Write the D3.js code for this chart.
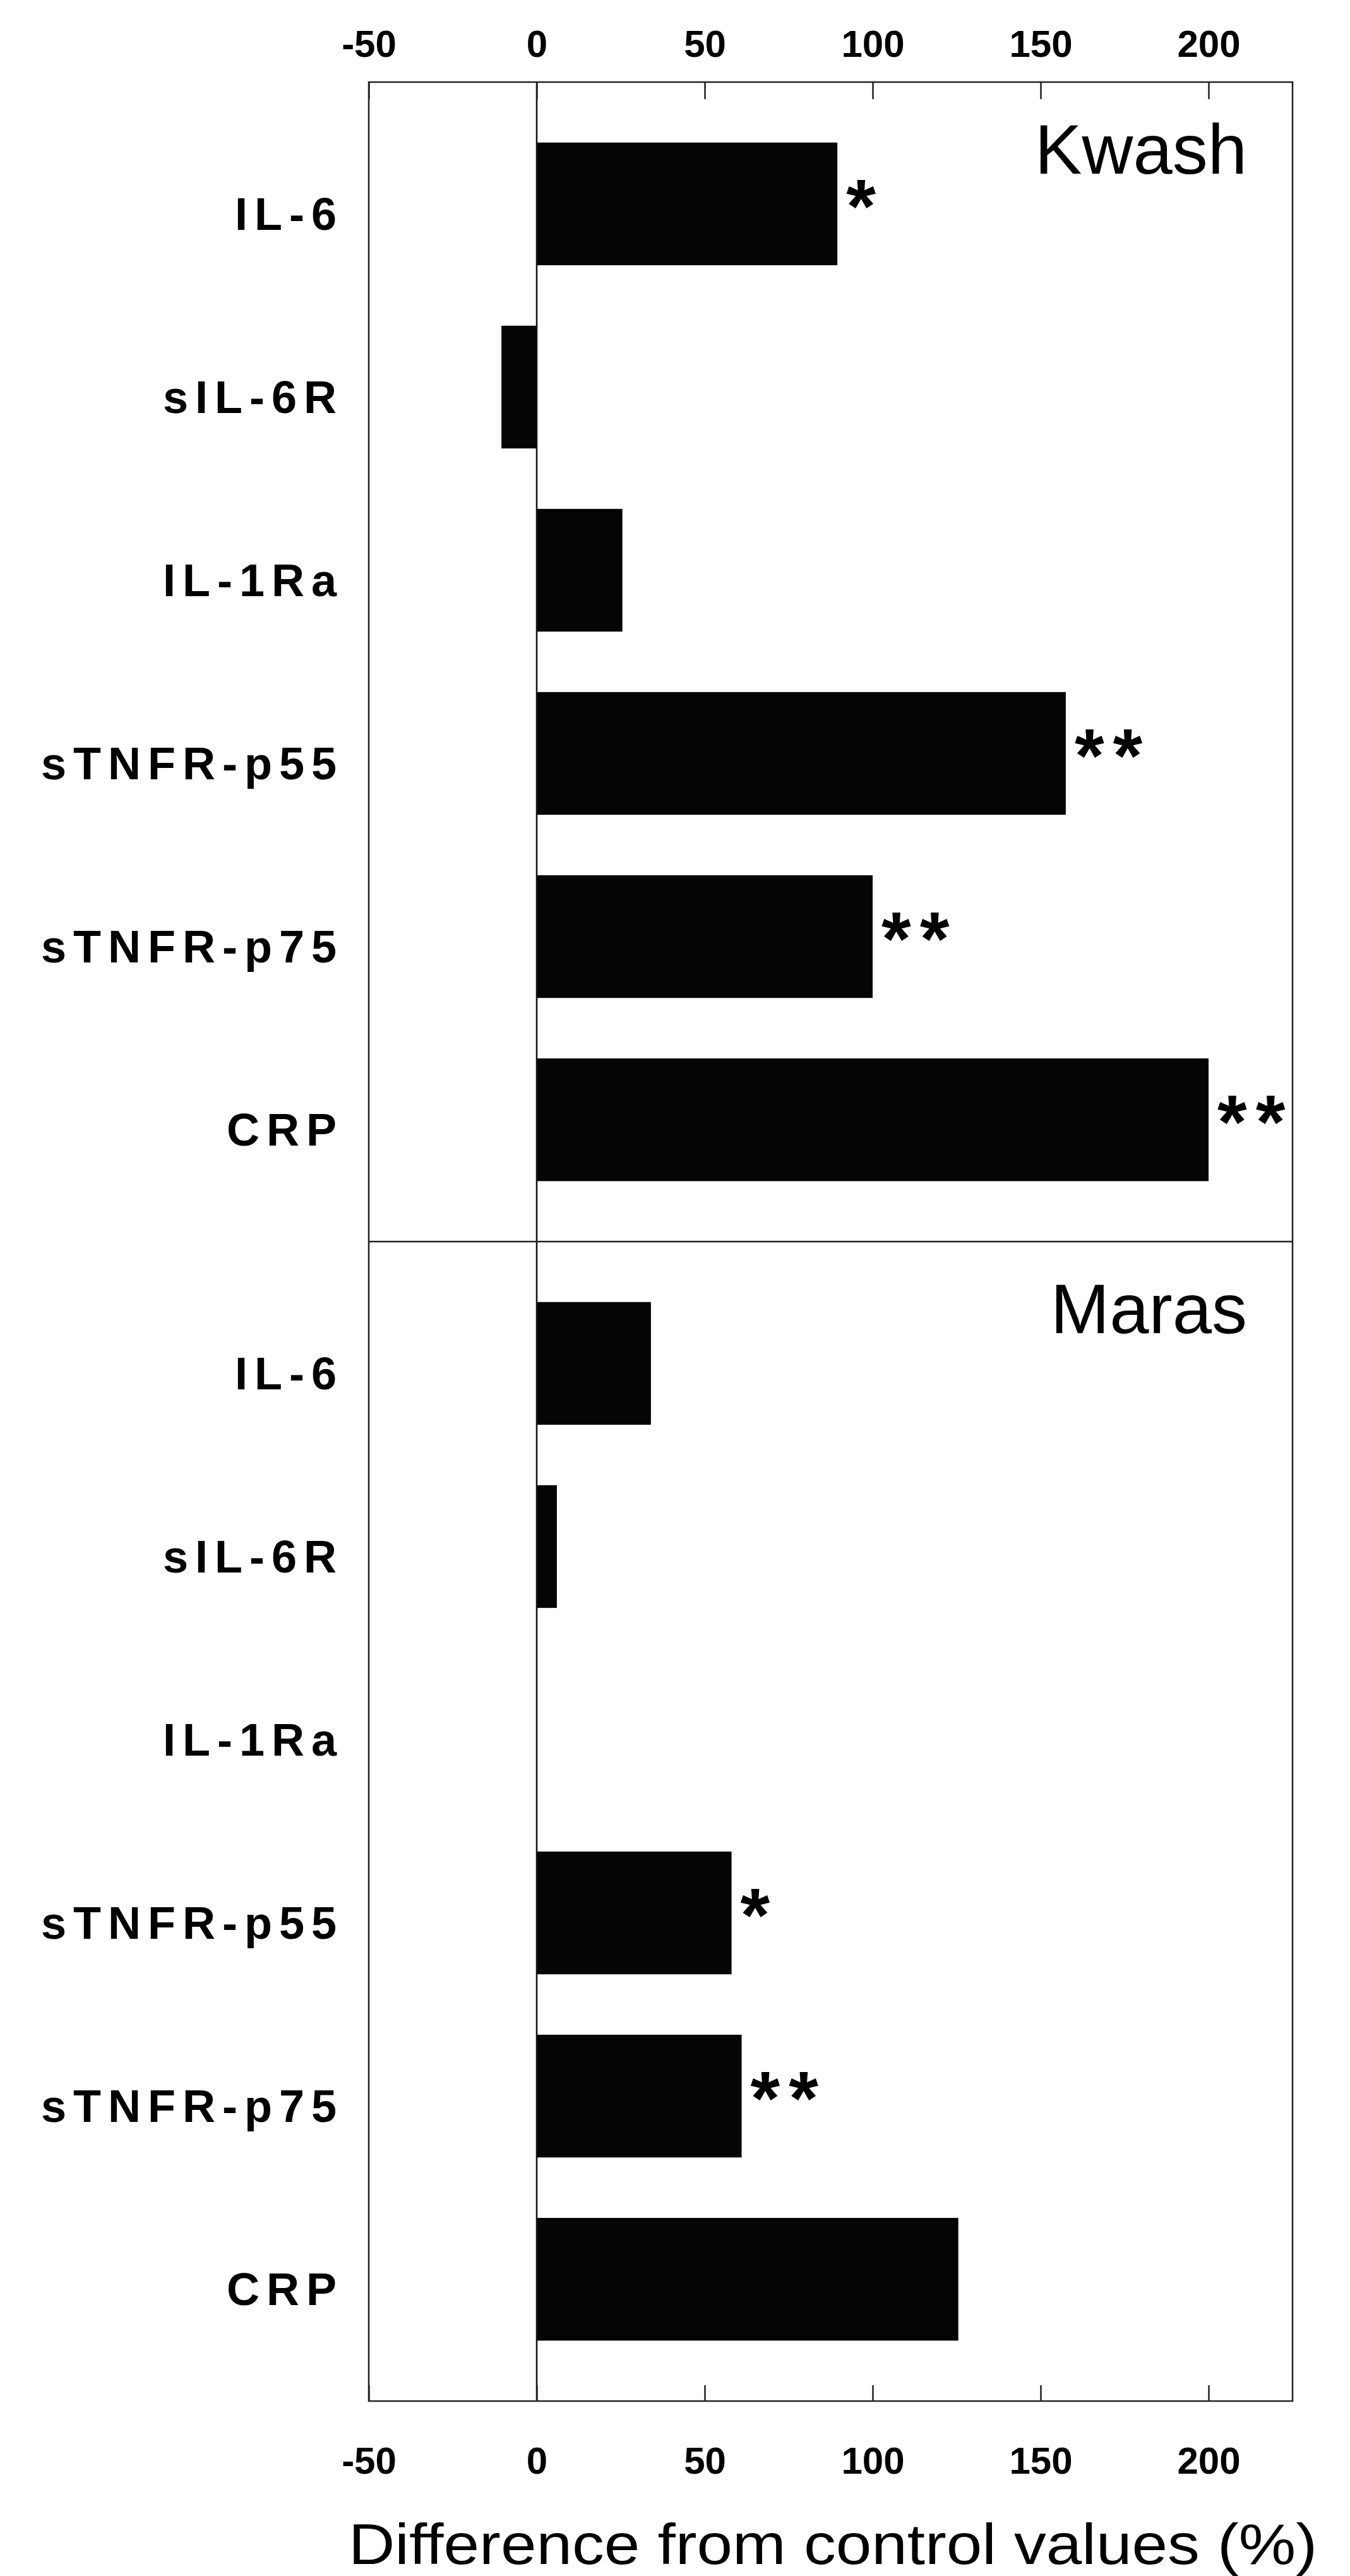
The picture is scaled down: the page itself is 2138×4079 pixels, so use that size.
<!DOCTYPE html>
<html>
  <head>
    <meta charset="utf-8">
    <script src="https://cdn.jsdelivr.net/npm/d3@7"></script>
    <style type="text/css">
    body { margin: 0; background: #fff; }
    text { fill: #000; font-family: "Liberation Sans", Arial, Helvetica, sans-serif; }
    text.cat { font-size: 72px; font-weight: bold; letter-spacing: 11px; text-anchor: end; }
    text.panel { font-size: 112px; text-anchor: end; }
    text.sig { font-size: 120px; font-weight: bold; letter-spacing: 14px; }
    text.xtitle { font-size: 90px; text-anchor: middle; }
    .frame { fill: none; stroke: #222; stroke-width: 2.5; }
    line.zero { stroke: #111; stroke-width: 2.5; }
    rect.bar { fill: #050505; }
    </style>
  </head>
  <body>
    <script type="text/javascript">

      var width = 2138;
      var height = 4079;

      // data (% difference from control)
      var categories = ["IL-6", "sIL-6R", "IL-1Ra", "sTNFR-p55", "sTNFR-p75", "CRP"];
      var panels = ["Kwash", "Maras"];
      var kwashValues = [89.5, -10.5, 25.5, 157.5, 100, 200];
      var marasValues = [34, 6, 0, 58, 61, 125.5];
      var kwashSig = ["*", "", "", "**", "**", "**"];
      var marasSig = ["", "", "", "*", "**", ""];
      var tickValues = [-50, 0, 50, 100, 150, 200];
      var tickLabels = ["-50", "0", "50", "100", "150", "200"];
      var xTitle = "Difference from control values (%)";

      var l = 584, r = 2047;      // frame left / right
      var t = 130, b = 3802;      // frame top / bottom
      var mid = (t + b) / 2;      // divider between panels

      var svg = d3.select("body").append("svg")
        .attr("width", width)
        .attr("height", height);

      svg.append("rect")
        .attr("width", width)
        .attr("height", height)
        .attr("fill", "#fff");

      var x = d3.scaleLinear()
        .domain([-50, 225])
        .range([l, r]);

      var series = [
        { name: panels[0], values: kwashValues, sig: kwashSig, y0: t, y1: mid },
        { name: panels[1], values: marasValues, sig: marasSig, y0: mid, y1: b }
      ];

      series.forEach(function(p) {
        var y = d3.scaleBand()
          .domain(categories)
          .range([p.y0, p.y1])
          .paddingInner(0.33)
          .paddingOuter(0.33);

        var g = svg.append("g").attr("class", "panel-" + p.name);

        /* bars */
        g.selectAll("rect.bar")
          .data(categories)
          .enter()
          .append("rect")
          .attr("class", "bar")
          .attr("x", function(d, i) { return x(Math.min(0, p.values[i])); })
          .attr("y", function(d) { return y(d); })
          .attr("width", function(d, i) { return Math.abs(x(p.values[i]) - x(0)); })
          .attr("height", y.bandwidth());

        /* category labels */
        g.selectAll("text.cat")
          .data(categories)
          .enter()
          .append("text")
          .attr("class", "cat")
          .attr("x", 544)
          .attr("y", function(d) { return y(d) + y.bandwidth() / 2 + 15; })
          .attr("dy", "0.36em")
          .text(function(d) { return d; });

        /* significance stars */
        g.selectAll("text.sig")
          .data(categories)
          .enter()
          .append("text")
          .attr("class", "sig")
          .attr("x", function(d, i) { return x(Math.max(0, p.values[i])) + 14; })
          .attr("y", function(d) { return y(d) + y.bandwidth() / 2 + 45; })
          .text(function(d, i) { return p.sig[i]; });

        /* panel name */
        g.append("text")
          .attr("class", "panel")
          .attr("x", 1975)
          .attr("y", p.y0 + 145)
          .text(p.name);
      });

      /* zero line */
      svg.append("line")
        .attr("class", "zero")
        .attr("x1", x(0))
        .attr("x2", x(0))
        .attr("y1", t)
        .attr("y2", b);

      /* frame and divider */
      svg.append("rect")
        .attr("class", "frame")
        .attr("x", l)
        .attr("y", t)
        .attr("width", r - l)
        .attr("height", b - t);

      svg.append("line")
        .attr("class", "frame")
        .attr("x1", l)
        .attr("x2", r)
        .attr("y1", mid)
        .attr("y2", mid);

      /* top and bottom axes, ticks pointing inward */
      var fmt = function(d) { return tickLabels[tickValues.indexOf(d)]; };

      var topAxis = svg.append("g")
        .attr("transform", "translate(0," + t + ")")
        .call(d3.axisTop(x).tickValues(tickValues).tickFormat(fmt)
          .tickSize(-27).tickSizeOuter(0).tickPadding(40));

      var bottomAxis = svg.append("g")
        .attr("transform", "translate(0," + b + ")")
        .call(d3.axisBottom(x).tickValues(tickValues).tickFormat(fmt)
          .tickSize(-25).tickSizeOuter(0).tickPadding(72));

      [topAxis, bottomAxis].forEach(function(a) {
        a.select(".domain").remove();
        a.selectAll(".tick line").attr("stroke", "#222").attr("stroke-width", 2.5);
        a.selectAll(".tick text")
          .attr("font-family", "'Liberation Sans', Arial, sans-serif")
          .attr("font-size", 60)
          .attr("font-weight", "bold")
          .attr("fill", "#000");
      });

      /* x title */
      svg.append("text")
        .attr("class", "xtitle")
        .attr("x", 1319)
        .attr("y", 4060)
        .attr("textLength", 1534)
        .attr("lengthAdjust", "spacingAndGlyphs")
        .text(xTitle);

    </script>
  </body>
</html>
